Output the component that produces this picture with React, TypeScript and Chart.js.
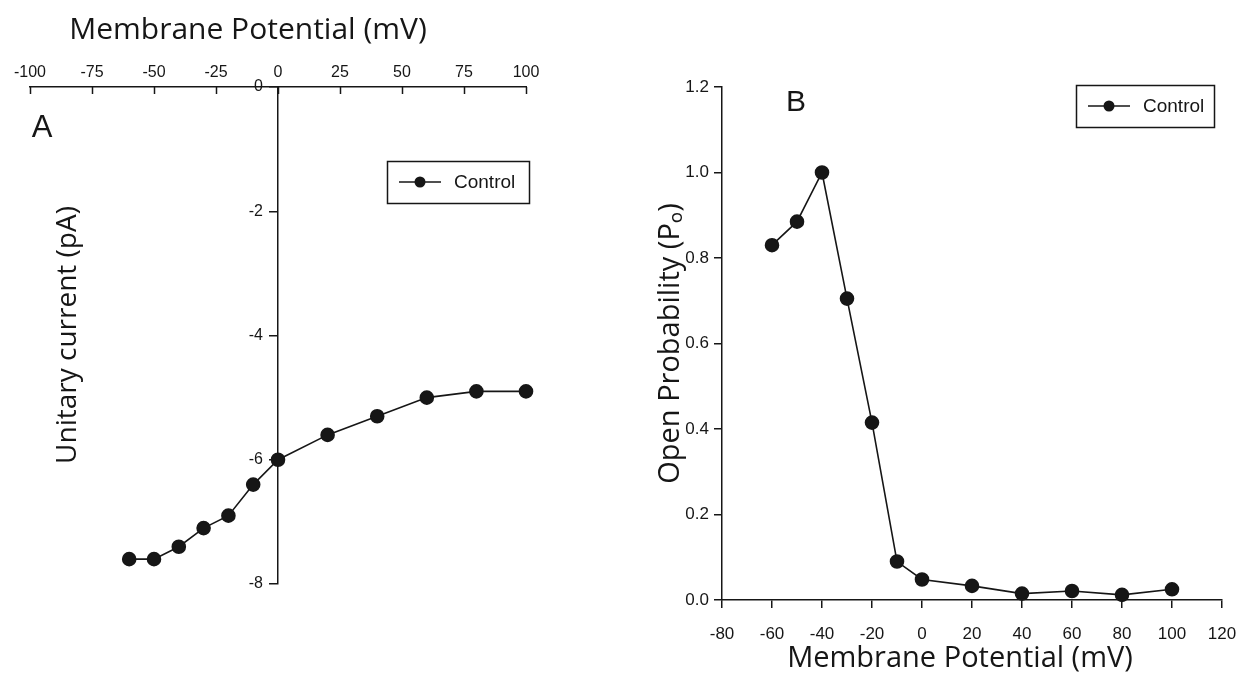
import React, { useEffect, useRef } from 'react';
import { Chart, registerables } from 'chart.js';

Chart.register(...registerables);

// ---- data ----
const seriesLabel = 'Control';
const potentialsA = [-60, -50, -40, -30, -20, -10, 0, 20, 40, 60, 80, 100];
const unitaryCurrent = [-7.6, -7.6, -7.4, -7.1, -6.9, -6.4, -6.0, -5.6, -5.3, -5.0, -4.9, -4.9];
const potentialsB = [-60, -50, -40, -30, -20, -10, 0, 20, 40, 60, 80, 100];
const openProbability = [0.83, 0.885, 1.0, 0.705, 0.415, 0.09, 0.048, 0.033, 0.015, 0.021, 0.012, 0.025];

const xRangeA = [-100, 100];
const xStepA = 25;
const yRangeA = [-8, 0];
const yStepA = 2;
const xRangeB = [-80, 120];
const xStepB = 20;
const yRangeB = [0, 1.2];
const yStepB = 0.2;

const xTitle = 'Membrane Potential (mV)';
const yTitleA = 'Unitary current (pA)';
const yTitleB = 'Open Probability (P\u2092)';

const INK = '#161616';
const TICK_FONT = 'Liberation Sans, Arial, sans-serif';
const TITLE_FONT = 'Open Sans, Noto Sans, sans-serif';

type TextItem = { text: string; x: number; y: number; font: string; rotate?: number; align?: CanvasTextAlign };
type LegendBox = { x: number; y: number; w: number; h: number; font: string };

function makeDecorPlugin(texts: TextItem[], legend: LegendBox, axisA: boolean) {
  return {
    id: 'decor',
    afterDraw(chart: any) {
      const ctx: CanvasRenderingContext2D = chart.ctx;
      ctx.save();
      if (axisA) {
        // inward ticks on the top axis
        const xs = chart.scales.x;
        const top = chart.chartArea.top;
        ctx.strokeStyle = INK;
        ctx.lineWidth = 1.5;
        xs.ticks.forEach((t: any) => {
          const px = Math.round(xs.getPixelForValue(t.value)) + 0.5;
          ctx.beginPath();
          ctx.moveTo(px, top);
          ctx.lineTo(px, top + 7);
          ctx.stroke();
        });
        // labels of the y axis that crosses at x = 0
        const ys = chart.scales.y;
        const axisX = xs.getPixelForValue(0);
        ctx.fillStyle = INK;
        ctx.font = `16px ${TICK_FONT}`;
        ctx.textAlign = 'right';
        ctx.textBaseline = 'middle';
        ys.ticks.forEach((t: any) => {
          ctx.fillText(String(t.label), axisX - 15, ys.getPixelForValue(t.value));
        });
      }
      // free texts
      for (const t of texts) {
        ctx.save();
        ctx.font = t.font;
        ctx.fillStyle = INK;
        ctx.textAlign = t.align || 'center';
        ctx.textBaseline = 'middle';
        ctx.translate(t.x, t.y);
        if (t.rotate) ctx.rotate(t.rotate);
        ctx.fillText(t.text, 0, 0);
        ctx.restore();
      }
      // legend box
      const ds = chart.data.datasets[0];
      ctx.strokeStyle = INK;
      ctx.lineWidth = 1.5;
      ctx.strokeRect(legend.x + 0.5, legend.y + 0.5, legend.w, legend.h);
      const cy = legend.y + legend.h / 2;
      ctx.beginPath();
      ctx.moveTo(legend.x + 12, cy);
      ctx.lineTo(legend.x + 54, cy);
      ctx.stroke();
      ctx.beginPath();
      ctx.fillStyle = INK;
      ctx.arc(legend.x + 33, cy, 5.5, 0, Math.PI * 2);
      ctx.fill();
      ctx.font = legend.font;
      ctx.textAlign = 'left';
      ctx.textBaseline = 'middle';
      ctx.fillText(ds.label, legend.x + 67, cy + 1);
      ctx.restore();
    },
  };
}

const datasetStyle = {
  borderColor: INK,
  backgroundColor: INK,
  borderWidth: 1.6,
  pointRadius: 6.5,
  pointHoverRadius: 6.5,
  pointBackgroundColor: INK,
  pointBorderColor: INK,
  tension: 0,
  clip: false as any,
};

export default function App() {
  const refA = useRef<HTMLCanvasElement>(null);
  const refB = useRef<HTMLCanvasElement>(null);

  useEffect(() => {
    const chartA = new Chart(refA.current!, {
      type: 'line',
      data: {
        datasets: [
          {
            label: seriesLabel,
            data: potentialsA.map((v, i) => ({ x: v, y: unitaryCurrent[i] })),
            ...datasetStyle,
          },
        ],
      },
      options: {
        animation: false,
        responsive: false,
        maintainAspectRatio: false,
        layout: { padding: { left: 30, right: 94, top: 57, bottom: 90 } },
        plugins: { legend: { display: false }, tooltip: { enabled: false } },
        scales: {
          x: {
            type: 'linear',
            position: 'top',
            min: xRangeA[0],
            max: xRangeA[1],
            ticks: { stepSize: xStepA, color: INK, font: { family: TICK_FONT, size: 16 }, padding: 5 },
            grid: { display: true, drawOnChartArea: false, drawTicks: false },
            border: { display: true, color: INK, width: 1.5 },
            afterFit: (s: any) => {
              s.height = 30;
              s.paddingLeft = 0;
              s.paddingRight = 0;
            },
          },
          y: {
            type: 'linear',
            position: { x: 0 } as any,
            min: yRangeA[0],
            max: yRangeA[1],
            ticks: { stepSize: yStepA, display: false },
            grid: { display: true, drawOnChartArea: false, drawTicks: true, tickLength: 8, color: INK, lineWidth: 1.5 },
            border: { display: true, color: INK, width: 1.5 },
          },
        },
      },
      plugins: [
        makeDecorPlugin(
          [
            { text: xTitle, x: 248, y: 30, font: `30px ${TITLE_FONT}` },
            { text: yTitleA, x: 68, y: 335, font: `28px ${TITLE_FONT}`, rotate: -Math.PI / 2 },
            { text: 'A', x: 42, y: 128, font: `31px ${TICK_FONT}` },
          ],
          { x: 387, y: 161, w: 142, h: 42, font: `19px ${TICK_FONT}` },
          true
        ),
      ],
    });

    const chartB = new Chart(refB.current!, {
      type: 'line',
      data: {
        datasets: [
          {
            label: seriesLabel,
            data: potentialsB.map((v, i) => ({ x: v, y: openProbability[i] })),
            ...datasetStyle,
          },
        ],
      },
      options: {
        animation: false,
        responsive: false,
        maintainAspectRatio: false,
        layout: { padding: { left: 10, right: 20, top: 87, bottom: 0 } },
        plugins: { legend: { display: false }, tooltip: { enabled: false } },
        scales: {
          x: {
            type: 'linear',
            position: 'bottom',
            min: xRangeB[0],
            max: xRangeB[1],
            ticks: { stepSize: xStepB, color: INK, font: { family: TICK_FONT, size: 17 }, padding: 16 },
            grid: { display: true, drawOnChartArea: false, drawTicks: true, tickLength: 8, color: INK, lineWidth: 1.5 },
            border: { display: true, color: INK, width: 1.5 },
            afterFit: (s: any) => {
              s.height = 74;
              s.paddingLeft = 0;
              s.paddingRight = 0;
            },
          },
          y: {
            type: 'linear',
            position: 'left',
            min: yRangeB[0],
            max: yRangeB[1],
            ticks: {
              stepSize: yStepB,
              color: INK,
              font: { family: TICK_FONT, size: 17 },
              padding: 5,
              callback: (v: any) => Number(v).toFixed(1),
            },
            grid: { display: true, drawOnChartArea: false, drawTicks: true, tickLength: 8, color: INK, lineWidth: 1.5 },
            border: { display: true, color: INK, width: 1.5 },
            title: {
              display: true,
              text: yTitleB,
              color: INK,
              font: { family: TITLE_FONT, size: 29 },
              padding: { top: 23, bottom: 0 },
            },
            afterFit: (s: any) => {
              s.width = 92;
              s.paddingTop = 0;
              s.paddingBottom = 0;
            },
          },
        },
      },
      plugins: [
        makeDecorPlugin(
          [
            { text: 'B', x: 176, y: 103, font: `30px ${TICK_FONT}` },
            { text: xTitle, x: 340, y: 659, font: `29px ${TITLE_FONT}` },
          ],
          { x: 456, y: 85, w: 138, h: 42, font: `19px ${TICK_FONT}` },
          false
        ),
      ],
    });

    return () => {
      chartA.destroy();
      chartB.destroy();
    };
  }, []);

  return (
    <div style={{ position: 'fixed', left: 0, top: 0, width: 1242, height: 674, background: '#fff' }}>
      <canvas ref={refA} width={620} height={674} style={{ position: 'absolute', left: 0, top: 0 }} />
      <canvas ref={refB} width={622} height={674} style={{ position: 'absolute', left: 620, top: 0 }} />
    </div>
  );
}
